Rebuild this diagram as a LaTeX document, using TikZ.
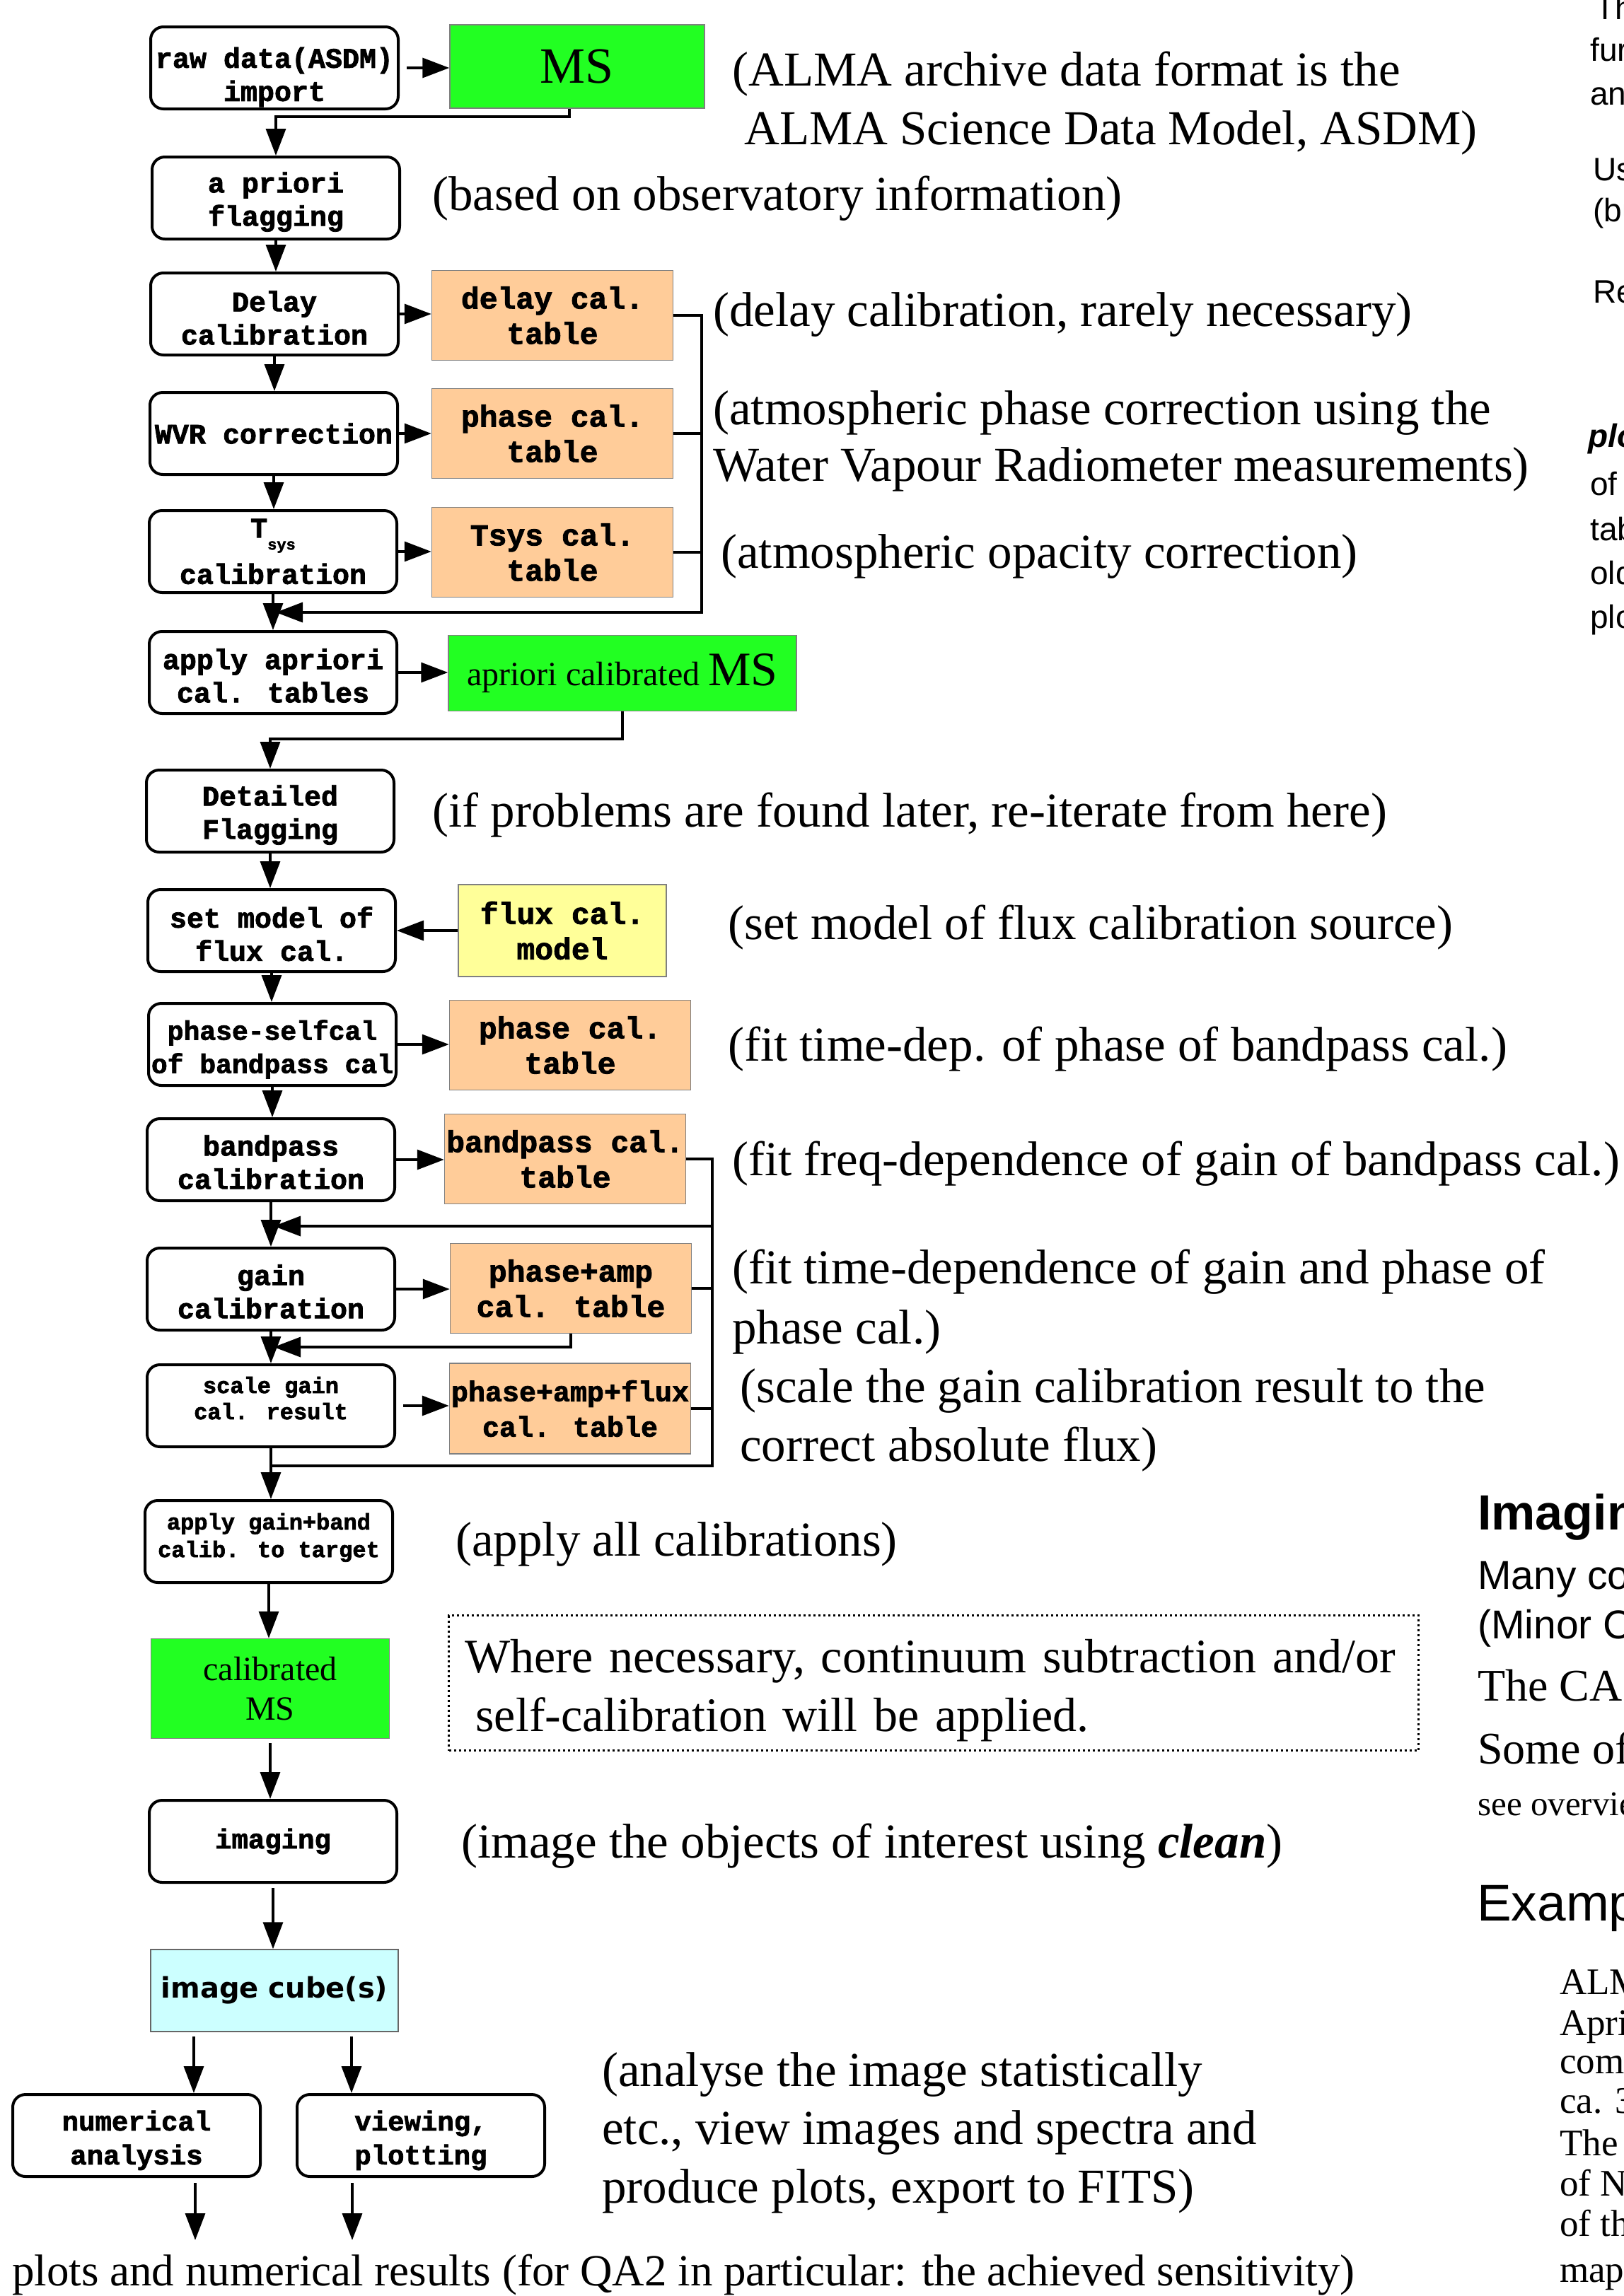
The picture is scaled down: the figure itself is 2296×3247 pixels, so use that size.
\documentclass[tikz,border=0pt]{standalone}
\usepackage{fontspec}
\setmainfont{Liberation Serif}
\newfontfamily\cour{Liberation Mono}[BoldFeatures={FakeBold=2}]
\newfontfamily\djv{DejaVu Sans}
\newfontfamily\arl{Liberation Sans}
\usetikzlibrary{arrows.meta,calc}
\newcommand{\fsz}[2]{\fontsize{#1}{#2}\selectfont}
\newcommand{\upr}[1]{\rule{0pt}{#1pt}}
\newcommand{\dnr}[1]{\rule[-#1pt]{0pt}{1pt}}
\definecolor{msgreen}{HTML}{22FF22}
\definecolor{peach}{HTML}{FFCC99}
\definecolor{lyellow}{HTML}{FFFF99}
\definecolor{lcyan}{HTML}{CCFFFF}
\begin{document}
\begin{tikzpicture}[x=1pt,y=-1pt,
 proc/.style={draw,line width=4pt,rounded corners=18pt,minimum width=350pt,minimum height=116pt,inner sep=0pt,align=center,font=\cour\bfseries\fsz{40}{47}},
 tbl/.style={draw=black!50,line width=1.5pt,fill=peach,minimum width=341pt,minimum height=127pt,inner sep=0pt,align=center,font=\cour\bfseries\fsz{43}{50}},
 msbox/.style={draw=black!50,line width=1.5pt,fill=msgreen,inner sep=0pt,align=center},
 arr/.style={line width=3.5pt,-{Triangle[length=38pt,width=28pt]}},
 wire/.style={line width=3.5pt},
 ann/.style={anchor=west,inner sep=0pt,yshift=-6pt,font=\fsz{69}{80}},
 frag/.style={anchor=base west,inner sep=0pt}]
\useasboundingbox (0,0) rectangle (2296,3247);
\clip (0,0) rectangle (2296,3247);
\fill[white] (0,0) rectangle (2296,3247);

% ---------- process boxes and data products ----------
\node[proc] (raw) at (388,96) {\upr{55}raw data(ASDM)\\import};
\node[msbox,minimum width=360pt,minimum height=118pt,font=\fsz{72}{80}] (ms) at (816,94) {MS};
\node[proc] (apf) at (390,280) {\upr{40}a priori\\flagging};
\node[proc] (delay) at (388,444) {\upr{40}Delay\\calibration};
\node[tbl] (dtab) at (781,446) {delay cal.\\table};
\node[proc] (wvr) at (387,613) {WVR correction};
\node[tbl] (ptab) at (781,613) {phase cal.\\table};
\node[proc] (tsys) at (386,780) {T\raisebox{-17pt}{\fsz{22}{22}sys}\\[14pt]calibration};
\node[tbl] (ttab) at (781,781) {Tsys cal.\\table};
\node[proc] (aat) at (386,951) {\upr{38}apply apriori\\cal. tables};
\node[msbox,minimum width=492pt,minimum height=107pt] (acms) at (880,952) {\fsz{48}{56}apriori calibrated \fsz{68}{70}MS};
\node[proc] (det) at (382,1147) {\upr{40}Detailed\\Flagging};
\node[proc] (setm) at (384,1316) {\upr{39}set model of\\flux cal.};
\node[tbl,fill=lyellow,minimum width=294pt,minimum height=130pt] (fmod) at (795,1316) {flux cal.\\model};
\node[proc,font=\cour\bfseries\fsz{38}{47}] (psc) at (385,1477) {\upr{42}phase-selfcal\\of bandpass cal};
\node[tbl] (pctab) at (806,1478) {phase cal.\\table};
\node[proc] (bp) at (383,1640) {\upr{36}bandpass\\calibration};
\node[tbl] (btab) at (799,1639) {bandpass cal.\\table};
\node[proc] (gain) at (383,1823) {\upr{36}gain\\calibration};
\node[tbl] (patab) at (807,1822) {phase+amp\\cal. table};
\node[proc,font=\cour\bfseries\fsz{32}{37}] (scal) at (383,1988) {scale gain\\cal. result\dnr{22}};
\node[tbl,font=\cour\bfseries\fsz{40}{50},minimum height=128pt] (paftab) at (806,1992) {phase+amp+flux\\cal. table};
\node[proc,font=\cour\bfseries\fsz{32}{39}] (agb) at (380,2180) {apply gain+band\\calib. to target\dnr{18}};
\node[msbox,minimum width=337pt,minimum height=141pt,font=\fsz{48}{56}] (cms) at (382,2388) {calibrated\\MS};
\node[proc,font=\cour\bfseries\fsz{39}{44}] (img) at (386,2604) {imaging};
\node[draw=black!60,line width=1.5pt,fill=lcyan,minimum width=350pt,minimum height=116pt,inner sep=0pt,font=\djv\bfseries\fsz{40}{48}] (cube) at (388,2815) {image cube(s)};
\node[proc,font=\cour\bfseries\fsz{39}{48}] (num) at (193,3020) {\upr{42}numerical\\analysis};
\node[proc,font=\cour\bfseries\fsz{39}{48}] (view) at (595,3020) {\upr{42}viewing,\\plotting};

% ---------- connectors ----------
\draw[arr,shorten <=10pt] (raw.east) -- (raw.east -| ms.west);
\draw[arr] ([xshift=-11pt]ms.south) |- ($(apf.north)+(0,-55)$) -- (apf.north);
\draw[arr] (apf.south) -- (apf.south |- delay.north);
\draw[arr] (delay.east) -- (delay.east -| dtab.west);
\draw[arr] (delay.south) -- (delay.south |- wvr.north);
\draw[arr] (wvr.east) -- (wvr.east -| ptab.west);
\draw[arr] (wvr.south) -- (wvr.south |- tsys.north);
\draw[arr] (tsys.east) -- (tsys.east -| ttab.west);
\draw[arr] (tsys.south) -- (tsys.south |- aat.north);
\coordinate (j1) at (992,866);
\draw[arr,shorten >=4pt] (dtab.east) -| (j1) -- (j1 -| tsys.south);
\draw[wire] (ptab.east) -- (ptab.east -| j1);
\draw[wire] (ttab.east) -- (ttab.east -| j1);
\draw[arr] (aat.east) -- (aat.east -| acms.west);
\draw[arr] (acms.south) |- ($(det.north)+(0,-42)$) -- (det.north);
\draw[arr] (det.south) -- (det.south |- setm.north);
\draw[arr] (fmod.west) -- (fmod.west -| setm.east);
\draw[arr] (setm.south) -- (setm.south |- psc.north);
\draw[arr] (psc.east) -- (psc.east -| pctab.west);
\draw[arr] (psc.south) -- (psc.south |- bp.north);
\draw[arr] (bp.east) -- (bp.east -| btab.west);
\draw[arr] (bp.south) -- (bp.south |- gain.north);
\coordinate (j2) at (1007,2073);
\coordinate (j3) at (1007,1734);
\draw[wire] (btab.east) -| (j2) -- (j2 -| scal.south);
\draw[arr,shorten >=4pt] (j3) -- (j3 -| bp.south);
\draw[arr] (gain.east) -- (gain.east -| patab.west);
\draw[wire] (patab.east) -- (patab.east -| j2);
\draw[arr,shorten >=4pt] (patab.south) |- ($(gain.south)+(0,22)$);
\draw[arr] (gain.south) -- (gain.south |- scal.north);
\draw[arr,shorten <=10pt] (scal.east) -- (scal.east -| paftab.west);
\draw[wire] (paftab.east) -- (paftab.east -| j2);
\draw[arr] (scal.south) -- (scal.south |- agb.north);
\draw[arr] (agb.south) -- (agb.south |- cms.north);
\draw[arr,shorten <=6pt] (cms.south) -- (cms.south |- img.north);
\draw[arr,shorten <=6pt] (img.south) -- (img.south |- cube.north);
\coordinate (ca) at ([xshift=-114pt]cube.south);
\coordinate (cb) at ([xshift=109pt]cube.south);
\draw[arr,shorten <=6pt] (ca) -- (ca |- num.north);
\draw[arr,shorten <=6pt] (cb) -- (cb |- view.north);
\coordinate (ea) at (276,3168);
\coordinate (eb) at (498,3168);
\draw[arr,shorten <=7pt] (ea |- num.south) -- (ea);
\draw[arr,shorten <=7pt] (eb |- view.south) -- (eb);

% ---------- annotations ----------
\node[ann] (a1) at (1035,99) {(ALMA archive data format is the};
\node[ann] (a1b) at (1052,182) {ALMA Science Data Model, ASDM)};
\node[ann] (a2) at (611,275) {(based on observatory information)};
\node[ann] (a3) at (1008,439) {(delay calibration, rarely necessary)};
\node[ann] (a4) at (1008,578) {(atmospheric phase correction using the};
\node[ann] (a4b) at (1008,658) {Water Vapour Radiometer measurements)};
\node[ann] (a5) at (1019,781) {(atmospheric opacity correction)};
\node[ann] (a6) at (611,1147) {(if problems are found later, re-iterate from here)};
\node[ann] (a7) at (1029,1306) {(set model of flux calibration source)};
\node[ann] (a8) at (1029,1478) {(fit time-dep. of phase of bandpass cal.)};
\node[ann] (a9) at (1035,1640) {(fit freq-dependence of gain of bandpass cal.)};
\node[ann] (a10) at (1035,1793) {(fit time-dependence of gain and phase of};
\node[ann] (a10b) at (1035,1878) {phase cal.)};
\node[ann] (a11) at (1046,1961) {(scale the gain calibration result to the};
\node[ann] (a11b) at (1046,2044) {correct absolute flux)};
\node[ann] (a12) at (644,2178) {(apply all calibrations)};
\node[draw,line width=3pt,dash pattern=on 3pt off 4pt,minimum width=1371pt,minimum height=191pt,text width=1325pt,inner xsep=23pt,inner ysep=0pt,align=left,font=\fsz{68}{83}] (note) at (1320,2380) {\rule{0pt}{68pt}Where necessary, continuum subtraction and/or\\\hspace*{15pt}self-calibration will be applied.};
\node[ann] (a14) at (652,2605) {(image the objects of interest using \textbf{\textit{clean}})};
\node[ann] (a15) at (851,2928) {(analyse the image statistically};
\node[ann] (a15b) at (851,3010) {etc., view images and spectra and};
\node[ann] (a15c) at (851,3093) {produce plots, export to FITS)};
\node[ann,font=\fsz{63}{72}] (res) at (17,3211) {plots and numerical results (for QA2 in particular: the achieved sensitivity)};

% ---------- clipped text at the right edge ----------
\node[frag,font=\arl\fsz{46}{50}] (r1) at (2255,27) {Th};
\node[frag,font=\arl\fsz{46}{50}] (r2) at (2248,86) {fur};
\node[frag,font=\arl\fsz{46}{50}] (r3) at (2248,148) {an};
\node[frag,font=\arl\fsz{46}{50}] (r4) at (2252,255) {Us};
\node[frag,font=\arl\fsz{46}{50}] (r5) at (2252,313) {(bu};
\node[frag,font=\arl\fsz{46}{50}] (r6) at (2252,428) {Re};
\node[frag,font=\arl\bfseries\itshape\fsz{46}{50}] (r7) at (2245,632) {plo};
\node[frag,font=\arl\fsz{46}{50}] (r8) at (2248,700) {of};
\node[frag,font=\arl\fsz{46}{50}] (r9) at (2248,764) {tab};
\node[frag,font=\arl\fsz{46}{50}] (r10) at (2248,826) {old};
\node[frag,font=\arl\fsz{46}{50}] (r11) at (2248,888) {plo};

\node[frag,font=\arl\bfseries\fsz{70}{80}] (s1) at (2089,2163) {Imagin};
\node[frag,font=\arl\fsz{57}{64}] (s2) at (2089,2247) {Many co};
\node[frag,font=\arl\fsz{57}{64}] (s3) at (2089,2317) {(Minor C};
\node[frag,font=\fsz{64}{70}] (s4) at (2089,2405) {The CA};
\node[frag,font=\fsz{64}{70}] (s5) at (2089,2494) {Some of};
\node[frag,font=\fsz{49}{56}] (s6) at (2089,2567) {see overvie};
\node[frag,font=\arl\fsz{73}{80}] (s7) at (2088,2716) {Examp};
\node[frag,font=\fsz{53}{58}] (t1) at (2205,2820) {ALM};
\node[frag,font=\fsz{53}{58}] (t2) at (2205,2878) {Apri};
\node[frag,font=\fsz{53}{58}] (t3) at (2205,2932) {com};
\node[frag,font=\fsz{53}{58}] (t4) at (2205,2988) {ca. 3};
\node[frag,font=\fsz{53}{58}] (t5) at (2205,3048) {The};
\node[frag,font=\fsz{53}{58}] (t6) at (2205,3105) {of N};
\node[frag,font=\fsz{53}{58}] (t7) at (2205,3162) {of th};
\node[frag,font=\fsz{53}{58}] (t8) at (2205,3227) {map};
\end{tikzpicture}
\end{document}
